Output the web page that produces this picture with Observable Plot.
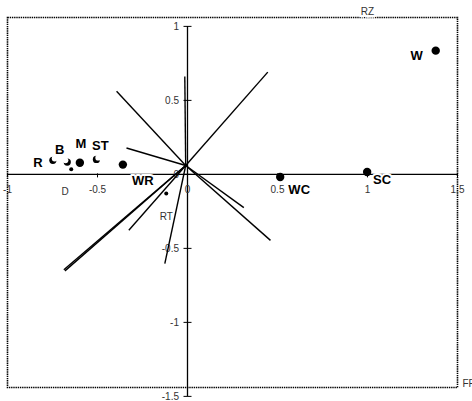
<!DOCTYPE html>
<html>
<head>
<meta charset="utf-8">
<script src="https://cdn.jsdelivr.net/npm/d3@7"></script>
<script src="https://cdn.jsdelivr.net/npm/@observablehq/plot@0.6"></script>
<style>
  html, body { margin: 0; padding: 0; background: #fff; }
  #chart svg { display: block; }
</style>
</head>
<body>
<div id="chart"></div>
<script>
// ---- data ----
const xTicks = [-1, -0.5, 0, 0.5, 1, 1.5];
const yTicks = [-1.5, -1, -0.5, 0, 0.5, 1];
const xTitle = "FF";
const yTitle = "RZ";

// environmental vectors (start point shared)
const vecOrigin = [-0.01, 0.06];
const vecEndX = [-0.015, -0.394, 0.446, -0.339, 0.461, 0.313, -0.126, -0.326, -0.687, -0.681];
const vecEndY = [0.662, 0.561, 0.691, 0.178, -0.446, -0.225, -0.603, -0.378, -0.644, -0.652];

// sites
const siteLabels = ["W", "SC", "WC", "WR", "M", "R", "B", "ST", "D", "RT"];
const siteX = [1.379, 0.998, 0.515, -0.359, -0.598, -0.748, -0.668, -0.506, -0.646, -0.118];
const siteY = [0.836, 0.016, -0.018, 0.066, 0.079, 0.095, 0.083, 0.101, 0.034, -0.130];
const siteKind = ["big", "big", "big", "big", "big", "crescent", "crescent", "crescent", "small", "small"];

// ---- layout / style (not data) ----
const labelOffset = {
  W: [-19, 5], SC: [15, 8], WC: [19, 12.5], WR: [20, 16.5], M: [1, -19],
  R: [-15, 3], B: [-7.5, -12.5], ST: [4, -14], D: [-6, 22], RT: [0, 23]
};
const cutOffset = { R: [1.8, -1.8], B: [-1.8, -1.8], ST: [1.8, -1.8] };

const vectors = vecEndX.map((x, i) => ({x1: vecOrigin[0], y1: vecOrigin[1], x2: x, y2: vecEndY[i]}));
const sites = siteLabels.map((l, i) => ({label: l, x: siteX[i], y: siteY[i], kind: siteKind[i]}));
const bigSites = sites.filter(d => d.kind === "big");
const smallSites = sites.filter(d => d.kind === "small");
const crescentSites = sites.filter(d => d.kind === "crescent");

const hTick = { draw(ctx) { ctx.moveTo(-4, 0); ctx.lineTo(4, 0); } };
const vTick = { draw(ctx) { ctx.moveTo(0, -1); ctx.lineTo(0, 3); } };

const font = "Liberation Sans, Arial, Helvetica, sans-serif";

const chart = Plot.plot({
  width: 472,
  height: 401,
  marginLeft: 7,
  marginRight: 15,
  marginTop: 17,
  marginBottom: 14,
  x: {domain: [-1, 1.5], axis: null},
  y: {domain: [-1.44, 1.06], axis: null},
  style: {fontFamily: font, background: "white", overflow: "visible"},
  marks: [
    Plot.frame({stroke: "black", strokeWidth: 1.6, strokeDasharray: "1.4,0.8"}),
    Plot.ruleY([0], {x1: xTicks[0], x2: xTicks[xTicks.length - 1], stroke: "black", strokeWidth: 1.3}),
    Plot.ruleX([0], {y1: yTicks[0], y2: yTicks[yTicks.length - 1], stroke: "black", strokeWidth: 1.3}),
    Plot.dot(yTicks, {x: 0, y: d => d, symbol: hTick, stroke: "black", fill: "none", strokeWidth: 1}),
    Plot.dot(xTicks, {x: d => d, y: 0, symbol: vTick, stroke: "black", fill: "none", strokeWidth: 1}),
    Plot.text(xTicks, {x: d => d, y: 0, dy: 15, text: d => String(d), fontSize: 10, fill: "#333"}),
    Plot.text(yTicks, {x: 0, y: d => d, dx: -8.5, textAnchor: "end", text: d => String(d), fontSize: 10, fill: "#333"}),
    Plot.link(vectors, {x1: "x1", y1: "y1", x2: "x2", y2: "y2", stroke: "black", strokeWidth: 1.4}),
    Plot.dot(bigSites, {x: "x", y: "y", r: 4.2, fill: "black"}),
    Plot.dot(smallSites, {x: "x", y: "y", r: 2, fill: "black"}),
    Plot.dot(crescentSites, {x: "x", y: "y", r: 3.6, fill: "black"}),
    ...crescentSites.map(d => Plot.dot([d], {x: "x", y: "y", r: 2.9, fill: "white",
        dx: cutOffset[d.label][0], dy: cutOffset[d.label][1]})),
    ...sites.map(d => Plot.text([d], {
      x: "x", y: "y", text: "label",
      dx: labelOffset[d.label][0], dy: labelOffset[d.label][1],
      fontSize: d.kind === "small" ? 10 : 13,
      fontWeight: d.kind === "small" ? "normal" : "bold",
      fill: d.kind === "small" ? "#333" : "black",
      stroke: d.kind === "small" ? null : "white",
      strokeWidth: 4,
      paintOrder: "stroke"
    })),
    Plot.text([yTitle], {x: 1.0, y: 1.06, dy: -5.5, text: d => d, fontSize: 10, fill: "#333",
      stroke: "white", strokeWidth: 5, paintOrder: "stroke"}),
    Plot.text([xTitle], {x: 1.5, y: -1.44, dx: 5, dy: -4, textAnchor: "start", text: d => d, fontSize: 10, fill: "#333"})
  ]
});

document.getElementById("chart").appendChild(chart);
</script>
</body>
</html>
